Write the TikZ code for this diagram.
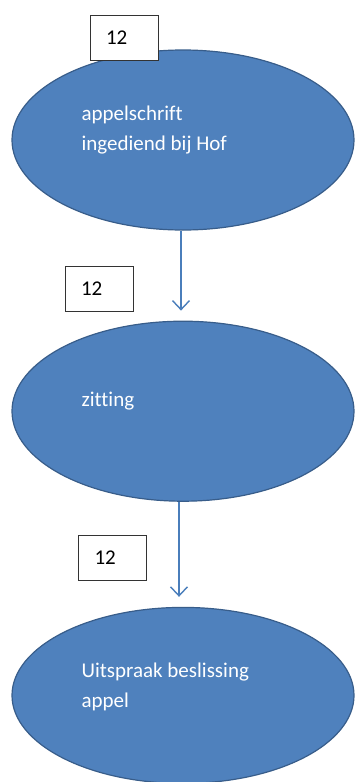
\documentclass[tikz,border=0pt]{standalone}
\usepackage{fontspec}
\setmainfont{Carlito}[Ligatures=NoCommon]
\usetikzlibrary{positioning,shapes.geometric,arrows.meta}
\definecolor{ellblue}{HTML}{4F81BD}
\definecolor{elldraw}{HTML}{385D8A}
\definecolor{arrblue}{HTML}{4A7EBB}

\begin{document}
\begin{tikzpicture}[x=1pt, y=1pt,
	estyle/.style={ellipse, fill=ellblue, draw=elldraw, line width=1.2pt,
	minimum width=342pt, minimum height=180pt, inner sep=0pt},
	tstyle/.style={text=white, anchor=west, align=left,
	font=\fontsize{21}{30}\selectfont, inner sep=0pt},
	bstyle/.style={rectangle, fill=white, draw=black!80, line width=0.9pt,
	minimum width=68pt, minimum height=45pt, text width=36pt, align=left,
	inner xsep=16pt, font=\fontsize{21}{24}\selectfont},
	astyle/.style={draw=arrblue, line width=1.4pt,
	-{Straight Barb[length=9pt, width=17pt]}, shorten >=10pt}
	]
	\useasboundingbox (0,0) rectangle (354,-782);

	\node[estyle] (e1) at (183,-140) {};
	\node[estyle] (e2) [below=90pt of e1] {};
	\node[estyle, minimum height=176pt] (e3) [below=105pt of e2] {};

	\node[tstyle] (t1) at ([shift={(70pt,10pt)}]e1.west) {appelschrift\\ingediend bij Hof};
	\node[tstyle] (t2) at ([shift={(70pt,10pt)}]e2.west) {zitting};
	\node[tstyle] (t3) at ([shift={(70pt,9pt)}]e3.west) {Uitspraak beslissing\\appel};

	\node[bstyle] (b1) at (124,-37.5) {12};
	\node[bstyle] (b2) at (99,-288.5) {12};
	\node[bstyle] (b3) at (112.5,-558) {12};

	\draw[astyle] ([xshift=-2pt]e1.south) to ([xshift=-2pt]e2.north);
	\draw[astyle] ([xshift=-4pt]e2.south) to ([xshift=-4pt]e3.north);
\end{tikzpicture}
\end{document}
